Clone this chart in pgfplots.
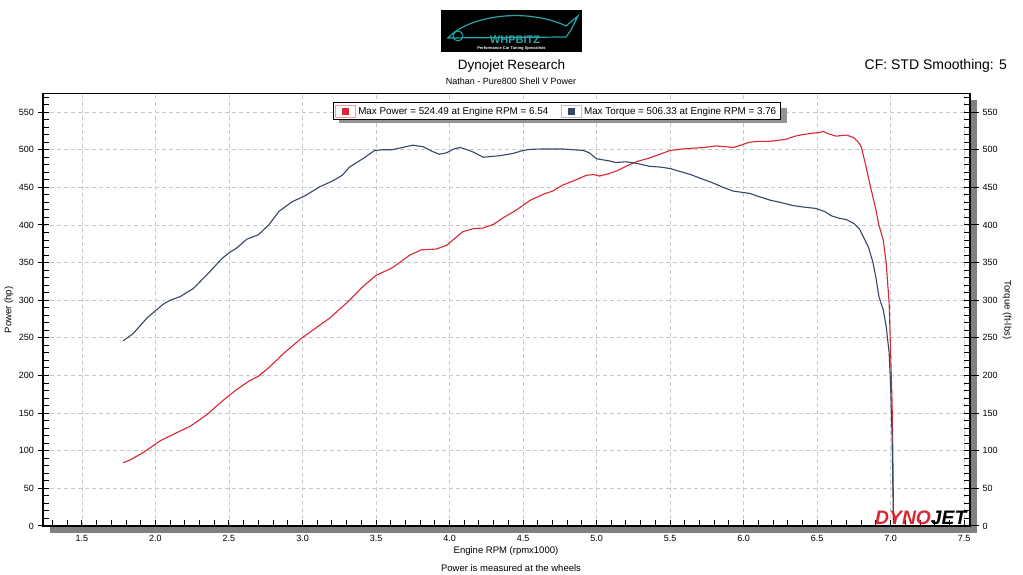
\documentclass[border=0pt]{standalone}
\usepackage{fontspec}
\setmainfont{Liberation Sans}
\usepackage{pgfplots}
\pgfplotsset{compat=1.18}
\definecolor{pwr}{RGB}{218,38,50}
\definecolor{trq}{RGB}{52,72,102}
\definecolor{gridc}{RGB}{200,200,200}
\definecolor{logoteal}{RGB}{40,165,165}
\definecolor{shadowgray}{RGB}{128,128,128}

\pgfplotstableread{
x y
1.78 84
1.83 88
1.92 98
2.03 113
2.145 124
2.24 133
2.35 148
2.46 167
2.55 181
2.64 193
2.70 199
2.78 212
2.87 229
2.99 249
3.09 263
3.19 277
3.32 300
3.41 318
3.50 333
3.61 343
3.73 360
3.81 367
3.91 368
3.98 373
4.09 391
4.16 395
4.23 396
4.30 401
4.36 409
4.455 420
4.55 433
4.64 441
4.70 445
4.77 453
4.86 460
4.93 466
4.98 467
5.02 465
5.08 468
5.14 472
5.20 478
5.27 484
5.36 489
5.43 494
5.50 499
5.58 501
5.655 502
5.73 503
5.81 505
5.88 504
5.93 503
5.98 506
6.04 510
6.10 511
6.155 511
6.22 512
6.29 514
6.35 518
6.40 520
6.47 522
6.52 523
6.54 524.5
6.58 521
6.63 518
6.67 519
6.70 519.5
6.75 516
6.78 510
6.80 504
6.83 480
6.85 462
6.87 445
6.90 420
6.92 400
6.95 380
6.97 349
6.99 296
7.00 230
7.01 163
7.015 97
7.02 4
}\powertable

\pgfplotstableread{
x y
1.78 246
1.85 256
1.94 276
2.00 286
2.055 295
2.10 300
2.17 305
2.26 316
2.37 338
2.45 355
2.50 363
2.55 369
2.62 381
2.70 387
2.77 400
2.84 418
2.93 431
3.01 438
3.12 451
3.20 458
3.27 466
3.32 477
3.41 488
3.49 499
3.55 500
3.61 500
3.68 503
3.75 506
3.82 504
3.88 498
3.93 494
3.98 496
4.03 501
4.07 503
4.12 500
4.16 497
4.23 490
4.28 491
4.34 492
4.43 495
4.50 499
4.55 500.5
4.64 501
4.70 501
4.77 501
4.84 500
4.91 499
4.95 496
5.00 488
5.09 485
5.13 483
5.20 484
5.27 482
5.36 478
5.43 477
5.50 475
5.57 471
5.64 467
5.72 461
5.79 456
5.86 450
5.93 445
6.04 442
6.10 438
6.18 433
6.25 430
6.33 426
6.40 424
6.49 422
6.55 418
6.60 412
6.65 409
6.70 407
6.75 402
6.79 394
6.82 382
6.85 370
6.88 350
6.90 330
6.92 305
6.95 287
6.97 265
6.99 230
7.00 185
7.01 119
7.015 52
7.02 3
}\torquetable

\pgfplotsset{
  dynobase/.style={
    at={(43bp,49bp)}, anchor=south west,
    scale only axis, width=927bp, height=432.7bp,
    xmin=1.235, xmax=7.54, ymin=0, ymax=575,
    axis line style={black, line width=1.2bp},
    tick align=inside,
    major tick length=6bp, minor tick length=6bp,
    tick style={black, line width=1bp},
    ytick={0,50,...,550},
    minor ytick={10,20,...,570},
    /pgf/number format/assume math mode=true,
    tick label style={font=\fontsize{9bp}{10bp}\selectfont},
  }
}

\begin{document}
\begin{tikzpicture}[x=1bp,y=1bp]
\path[use as bounding box] (0,0) rectangle (1023,575);
% axis shadow
\fill[shadowgray] (50,42) rectangle (977,475);

\begin{axis}[
  dynobase,
  axis background/.style={fill=white},
  xtick={1.5,2.0,2.5,3.0,3.5,4.0,4.5,5.0,5.5,6.0,6.5,7.0,7.5},
  minor xtick={1.3,1.4,1.6,1.7,1.8,1.9,2.1,2.2,2.3,2.4,2.6,2.7,2.8,2.9,3.1,3.2,3.3,3.4,3.6,3.7,3.8,3.9,4.1,4.2,4.3,4.4,4.6,4.7,4.8,4.9,5.1,5.2,5.3,5.4,5.6,5.7,5.8,5.9,6.1,6.2,6.3,6.4,6.6,6.7,6.8,6.9,7.1,7.2,7.3,7.4},
  xtick pos=lower, ytick pos=left,
  xticklabel={\pgfmathprintnumber[fixed,fixed zerofill,precision=1]{\tick}},
  xticklabel style={inner sep=0pt, anchor=north, yshift=-9bp},
  yticklabel style={inner sep=0pt, anchor=east, xshift=-9bp},
  extra y ticks={0,50,...,550},
  extra y tick labels={},
  extra y tick style={tick align=outside, major tick length=5bp, grid=none},
  grid=major,
  major grid style={gridc, dash pattern=on 4bp off 3bp, line width=0.8bp},
  legend style={at={(axis description cs:0.3128,0.979)}, anchor=north west,
    legend columns=2, draw=black, line width=1bp, fill=white,
    font=\fontsize{9.85bp}{11bp}\selectfont, inner sep=2bp, row sep=0pt,
    /tikz/every even column/.append style={column sep=11bp}},
  legend cell align=left,
]
% legend shadow
\fill[gray!85] (axis description cs:0.3193,0.966) rectangle (axis description cs:0.8026,0.9314);
\addplot[pwr, line width=1.1bp, no marks,
  legend image code/.code={\draw[pwr!45, line width=0.8bp, fill=white] (0bp,-6bp) rectangle (20bp,6bp); \fill[pwr] (7bp,-3bp) rectangle (13bp,3bp);}]
  table[x=x,y=y] {\powertable};
\addlegendentry{Max Power = 524.49 at Engine RPM = 6.54}
\addplot[trq, line width=1.1bp, no marks,
  legend image code/.code={\draw[gray!50, line width=0.8bp, fill=white] (0bp,-6bp) rectangle (20bp,6bp); \fill[trq] (7bp,-3bp) rectangle (13bp,3bp);}]
  table[x=x,y=y] {\torquetable};
\addlegendentry{Max Torque = 506.33 at Engine RPM = 3.76}
\end{axis}

\begin{axis}[
  dynobase,
  axis x line=none,
  axis y line*=right,
  ytick pos=right,
  yticklabel pos=right,
  yticklabel style={inner sep=0pt, anchor=west, xshift=12.5bp},
  extra y ticks={0,50,...,550},
  extra y tick labels={},
  extra y tick style={tick align=outside, major tick length=9bp},
]
\end{axis}

% DYNOJET logo
\node[anchor=base west, inner sep=0pt, xscale=0.99, font=\fontsize{19.5bp}{20bp}\selectfont\bfseries\itshape] at (875,50.5)
  {\textcolor{pwr}{DYNO}\textcolor{black}{JET}};

% top logo
\fill[black] (441,523) rectangle (582,565);
\draw[logoteal, line width=1.2bp] (448,537) .. controls (460,550) and (482,557) .. (505,559)
  .. controls (528,561) and (552,556) .. (566,549) -- (578,559) -- (571,545) -- (566,538) -- cycle;
\draw[logoteal, line width=1bp] (458,539) circle (5);
\node[logoteal, font=\fontsize{11bp}{12bp}\selectfont\bfseries, inner sep=0pt] at (515,535) {WHPBITZ};
\node[white, font=\fontsize{4bp}{5bp}\selectfont\bfseries, inner sep=0pt] at (511.5,527) {Performance Car Tuning Specialists};

% titles
\node[font=\fontsize{13.5bp}{15bp}\selectfont, inner sep=0pt] at (511.5,509) {Dynojet Research};
\node[font=\fontsize{9bp}{10bp}\selectfont, inner sep=0pt] at (511,494) {Nathan - Pure800 Shell V Power};
\node[font=\fontsize{14bp}{15bp}\selectfont, inner sep=0pt, anchor=east] at (1007,509) {CF: STD Smoothing: 5};

% axis labels
\node[font=\fontsize{9.5bp}{10bp}\selectfont, inner sep=0pt] at (506,24) {Engine RPM (rpmx1000)};
\node[font=\fontsize{9.5bp}{10bp}\selectfont, inner sep=0pt] at (511,7) {Power is measured at the wheels};
\node[font=\fontsize{9.5bp}{10bp}\selectfont, inner sep=0pt, rotate=90] at (9,265) {Power (hp)};
\node[font=\fontsize{9.5bp}{10bp}\selectfont, inner sep=0pt, rotate=-90] at (1007,265) {Torque (ft-lbs)};
\end{tikzpicture}
\end{document}
